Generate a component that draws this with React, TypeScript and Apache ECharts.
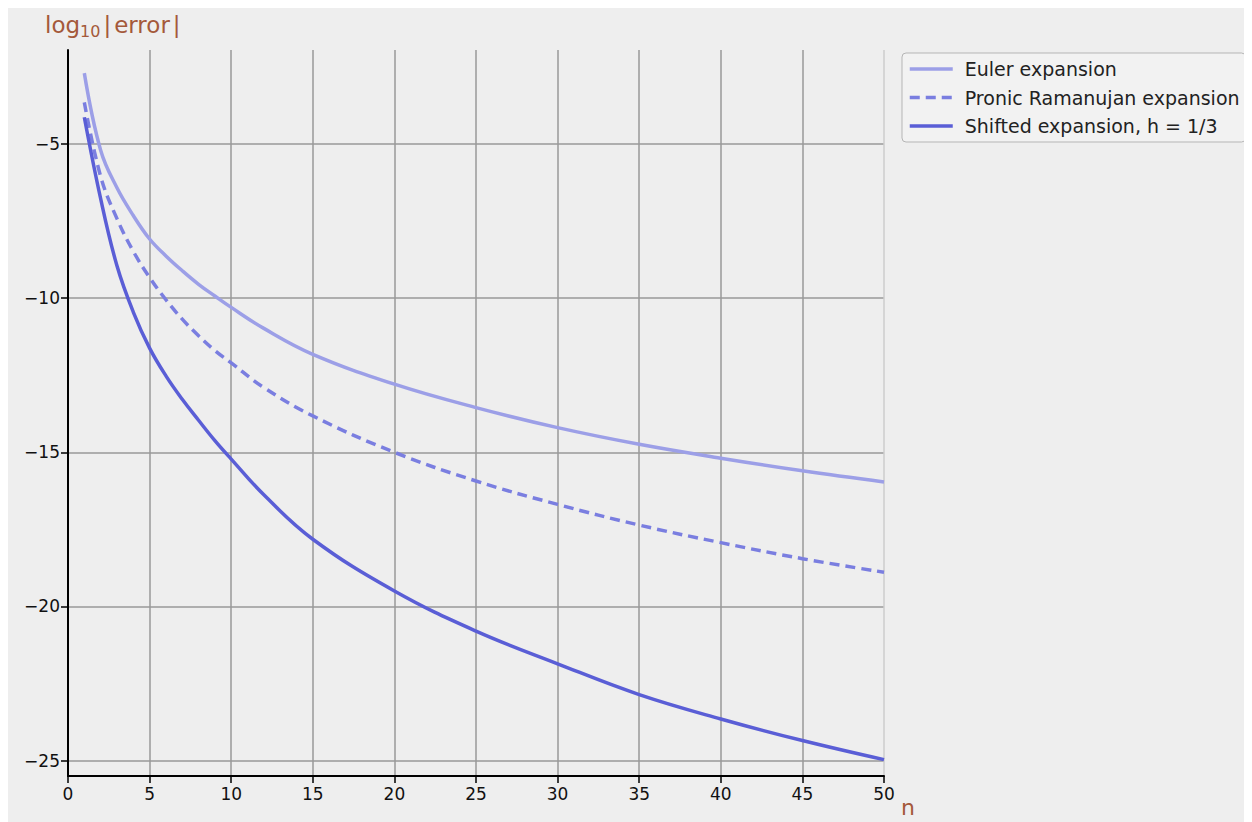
import React, { useEffect, useRef } from "react";
import * as echarts from "echarts";

const nValues = [1, 2, 3, 4, 5, 6, 7, 8, 9, 10, 12, 15, 20, 25, 30, 35, 40, 45, 50];
const eulerValues = [-2.7, -5.2, -6.42, -7.32, -8.08, -8.63, -9.11, -9.55, -9.93, -10.3, -10.98, -11.82, -12.79, -13.55, -14.2, -14.74, -15.19, -15.6, -15.96];
const pronicValues = [-3.65, -6.05, -7.42, -8.48, -9.33, -10.05, -10.68, -11.22, -11.7, -12.1, -12.9, -13.82, -15.0, -15.93, -16.69, -17.36, -17.93, -18.45, -18.89];
const shiftedValues = [-4.13, -6.77, -8.95, -10.45, -11.62, -12.52, -13.28, -13.96, -14.62, -15.22, -16.38, -17.82, -19.5, -20.8, -21.86, -22.86, -23.65, -24.35, -24.97];
const seriesNames = ["Euler expansion", "Pronic Ramanujan expansion", "Shifted expansion, h = 1/3"];
const seriesColors = ["#9c9fe7", "#7a7ee0", "#5a5ed6"];
const yTickValues = [-25, -20, -15, -10, -5];
const xTickInterval = 5;

const FONT = "DejaVu Sans";
const BROWN = "#a4593a";

export default function App() {
  const ref = useRef<HTMLDivElement>(null);
  useEffect(() => {
    if (!ref.current) return;
    document.documentElement.style.overflow = "hidden";
    const chart = echarts.init(ref.current, null, { renderer: "svg" });
    const seriesData = [eulerValues, pronicValues, shiftedValues];
    const gridColors = Array.from({ length: 11 }, (_, i) => (i === 10 ? "#cccccc" : "#999999"));
    chart.setOption({
      animation: false,
      backgroundColor: "#eeeeee",
      textStyle: { fontFamily: FONT },
      grid: { left: 60, right: 368, top: 42, bottom: 46, containLabel: false },
      legend: {
        orient: "vertical",
        left: 894,
        top: 45,
        padding: [5, 6, 5, 6],
        itemGap: 6.5,
        itemWidth: 43,
        itemHeight: 14,
        borderColor: "#b5b5b5",
        borderWidth: 1,
        borderRadius: 4,
        backgroundColor: "rgba(255,255,255,0.25)",
        itemStyle: { opacity: 0 },
        lineStyle: { width: 3.5 },
        textStyle: { fontFamily: FONT, fontSize: 19, color: "#222", lineHeight: 22, padding: [0, 0, 0, 7] },
        data: seriesNames,
      },
      xAxis: {
        type: "value",
        min: 0,
        max: 50,
        interval: xTickInterval,
        axisLine: { show: true, onZero: false, lineStyle: { color: "#000", width: 2 } },
        axisTick: { show: true, length: 7, lineStyle: { color: "#000", width: 1.5 } },
        axisLabel: { fontFamily: FONT, fontSize: 17, color: "#111", margin: 9 },
        splitLine: { show: true, lineStyle: { color: gridColors, width: 1.5 } },
      },
      yAxis: {
        type: "value",
        min: -25.5,
        max: -1.95,
        axisLine: { show: true, onZero: false, lineStyle: { color: "#000", width: 2 } },
        axisTick: { show: true, length: 7, customValues: yTickValues, lineStyle: { color: "#000", width: 1.5 } },
        axisLabel: {
          fontFamily: FONT,
          fontSize: 17,
          color: "#111",
          margin: 8,
          customValues: yTickValues,
          formatter: (v: number) => String(v).replace("-", "\u2212"),
        },
        splitLine: { show: true, lineStyle: { color: "#999999", width: 1.5 } },
      },
      graphic: [
        {
          type: "text",
          left: 37,
          top: 5,
          style: {
            text: "{a|log}{b|10}{c||}{a|error}{c||}",
            rich: {
              a: { fontFamily: FONT, fontSize: 23, fill: BROWN, verticalAlign: "bottom" },
              b: { fontFamily: FONT, fontSize: 16, fill: BROWN, verticalAlign: "bottom", padding: [0, 0, -3, 0] },
              c: { fontFamily: FONT, fontSize: 23, fill: BROWN, verticalAlign: "bottom", padding: [0, 3, 0, 3] },
            },
          },
        },
        {
          type: "text",
          left: 893,
          top: 788,
          style: { text: "n", fontFamily: FONT, fontSize: 22, fill: BROWN },
        },
      ],
      series: seriesNames.map((name, i) => ({
        name,
        type: "line",
        data: nValues.map((n, j) => [n, seriesData[i][j]]),
        symbol: "none",
        smooth: 0.4,
        color: seriesColors[i],
        lineStyle: { color: seriesColors[i], width: 3.5, type: i === 1 ? [10, 6] : "solid" },
        z: 3 + i,
      })),
    });
    return () => chart.dispose();
  }, []);
  return <div ref={ref} style={{ width: 1244, height: 814 }} />;
}
